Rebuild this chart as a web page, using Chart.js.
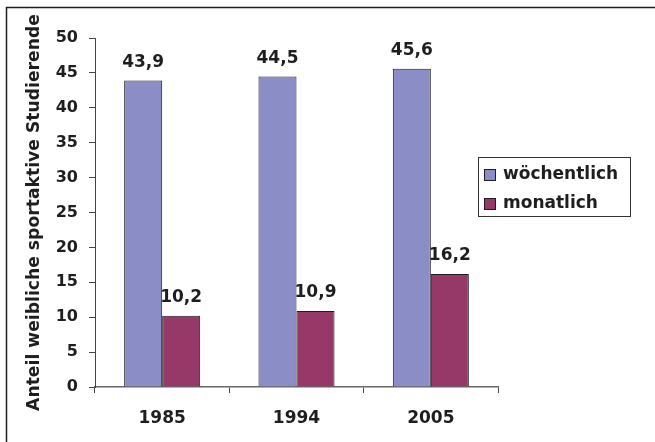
<!DOCTYPE html>
<html lang="de">
<head>
<meta charset="utf-8">
<title>Anteil weibliche sportaktive Studierende</title>
<script src="https://cdn.jsdelivr.net/npm/chart.js@4.4.1/dist/chart.umd.min.js"></script>
<style>
  html, body { margin: 0; padding: 0; background: #fff; }
  #chart { display: block; }
</style>
</head>
<body>
<canvas id="chart" width="655" height="442"></canvas>
<script>
// Survey years and shares of female students doing sport (percent)
const years = ['1985', '1994', '2005'];
const weeklyShare = [43.9, 44.5, 45.6];
const monthlyShare = [10.2, 10.9, 16.2];
const seriesNames = ['wöchentlich', 'monatlich'];
const yTicks = [0, 5, 10, 15, 20, 25, 30, 35, 40, 45, 50];
const yTitle = 'Anteil weibliche sportaktive Studierende';

const FONT = 'DejaVu Sans';
const INK = '#1e1e1e';
const COLORS = ['#8b8ec6', '#963868'];

const fmt = v => v.toFixed(1).replace('.', ',');

// White page, open frame on left and top edges
const framePlugin = {
  id: 'frame',
  beforeDraw(chart) {
    const ctx = chart.ctx;
    ctx.save();
    ctx.fillStyle = '#fff';
    ctx.fillRect(0, 0, chart.width, chart.height);
    ctx.strokeStyle = INK;
    ctx.lineWidth = 1.5;
    ctx.beginPath();
    ctx.moveTo(6.5, chart.height);
    ctx.lineTo(6.5, 7.5);
    ctx.lineTo(chart.width, 7.5);
    ctx.stroke();
    ctx.restore();
  }
};

// Value labels above each bar
const valueLabels = {
  id: 'valueLabels',
  afterDatasetsDraw(chart) {
    const ctx = chart.ctx;
    ctx.save();
    ctx.font = `bold 17px "${FONT}"`;
    ctx.fillStyle = INK;
    ctx.textAlign = 'center';
    ctx.textBaseline = 'alphabetic';
    chart.data.datasets.forEach((ds, di) => {
      chart.getDatasetMeta(di).data.forEach((bar, i) => {
        ctx.fillText(fmt(ds.data[i]), bar.x, bar.y - 13.5);
      });
    });
    ctx.restore();
  }
};

// Boxed legend to the right of the plot
const boxLegend = {
  id: 'boxLegend',
  afterDraw(chart) {
    const ctx = chart.ctx;
    const x0 = 478.5, y0 = 157.5, w = 152, h = 59;
    ctx.save();
    ctx.strokeStyle = '#333';
    ctx.lineWidth = 1;
    ctx.strokeRect(x0, y0, w, h);
    ctx.font = `bold 17px "${FONT}"`;
    ctx.textAlign = 'left';
    ctx.textBaseline = 'middle';
    chart.data.datasets.forEach((ds, i) => {
      const cy = 175 + i * 29;
      ctx.fillStyle = ds.backgroundColor;
      ctx.fillRect(484.5, cy - 5.5, 11, 11);
      ctx.strokeStyle = INK;
      ctx.strokeRect(484.5, cy - 5.5, 11, 11);
      ctx.fillStyle = INK;
      ctx.fillText(ds.label, 503, cy);
    });
    ctx.restore();
  }
};

new Chart(document.getElementById('chart'), {
  type: 'bar',
  data: {
    labels: years,
    datasets: [
      { label: seriesNames[0], data: weeklyShare, backgroundColor: COLORS[0] },
      { label: seriesNames[1], data: monthlyShare, backgroundColor: COLORS[1] }
    ].map(d => Object.assign(d, {
      borderColor: INK,
      borderWidth: 1,
      categoryPercentage: 0.566,
      barPercentage: 1
    }))
  },
  options: {
    responsive: false,
    animation: false,
    events: [],
    layout: { padding: { left: 8, top: 38, right: 157, bottom: 0 } },
    plugins: {
      legend: { display: false },
      tooltip: { enabled: false }
    },
    scales: {
      x: {
        offset: true,
        grid: {
          offset: true,
          drawOnChartArea: false,
          drawTicks: true,
          tickLength: 6,
          color: '#444'
        },
        border: { color: '#666', width: 1.5 },
        ticks: {
          color: INK,
          padding: 15,
          font: { family: FONT, size: 17, weight: 'bold' }
        },
        afterFit(scale) { scale.height = 55; }
      },
      y: {
        min: 0,
        max: 50,
        afterBuildTicks(scale) { scale.ticks = yTicks.map(v => ({ value: v })); },
        grid: {
          drawOnChartArea: false,
          drawTicks: true,
          tickLength: 6,
          color: '#444'
        },
        border: { color: '#444', width: 1 },
        ticks: {
          color: INK,
          padding: 11,
          font: { family: FONT, size: 16, weight: 'bold' }
        },
        title: {
          display: true,
          text: yTitle,
          color: INK,
          padding: { top: 16, bottom: 0 },
          font: { family: FONT, size: 17.2, weight: 'bold' }
        },
        afterFit(scale) { scale.width = 87; }
      }
    }
  },
  plugins: [framePlugin, valueLabels, boxLegend]
});
</script>
</body>
</html>
